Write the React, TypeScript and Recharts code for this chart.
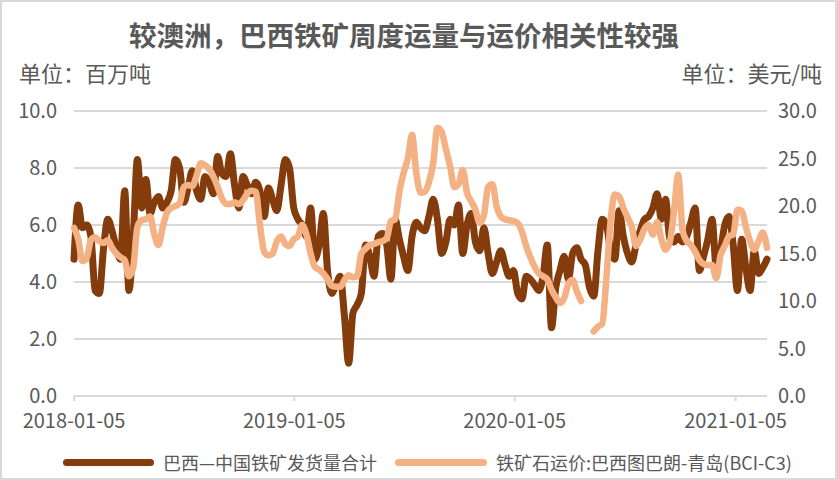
import { LineChart, Line, XAxis, YAxis, CartesianGrid } from "recharts";

// weekly data from 2018-01-05, x measured in days since the first week
const tickDays = [0, 365, 730, 1096];
const tickLabels = ["2018-01-05", "2019-01-05", "2020-01-05", "2021-01-05"];

// 巴西—中国铁矿发货量合计 (百万吨)
const shipments = [
  4.8, 6.7, 5.9, 6.0, 5.6, 3.7, 3.6, 5.2, 6.2, 5.8,
  5.2, 4.8, 7.2, 3.7, 5.5, 8.3, 6.6, 7.6, 6.4, 6.8,
  7.0, 6.6, 6.8, 7.2, 8.3, 8.0, 6.8, 7.3, 7.9, 7.2,
  6.9, 7.7, 7.5, 7.1, 8.4, 7.8, 7.7, 8.5, 7.4, 6.6,
  7.7, 7.4, 7.1, 7.5, 7.2, 6.3, 7.3, 6.9, 6.5, 7.4,
  8.3, 8.0, 6.6, 6.2, 6.0, 5.6, 6.6, 4.8, 5.3, 6.4,
  4.4, 3.6, 3.9, 4.2, 2.8, 1.15, 2.9, 3.2, 3.6, 5.3,
  4.9, 4.2, 5.6, 5.7, 5.3, 4.1, 6.2, 5.5, 4.9, 4.4,
  5.6, 6.1, 5.9, 5.8, 6.3, 6.9, 6.2, 5.0, 5.4, 6.2,
  6.0, 6.7, 5.0, 6.0, 6.4, 5.4, 5.1, 5.9, 5.0, 4.3,
  4.7, 5.1, 4.6, 4.2, 4.4, 3.6, 3.4, 4.2, 4.1, 3.9,
  3.7, 4.2, 5.3, 2.4, 3.8, 4.4, 4.9, 4.1, 5.0, 5.2,
  4.8, 4.6, 3.8, 3.5, 5.1, 6.2, 6.0, 5.1, 4.8, 6.5,
  5.6, 5.0, 4.7, 5.3, 5.8, 6.2, 6.3, 6.6, 7.1, 6.2,
  6.9, 5.5, 5.4, 5.6, 5.4, 5.6, 6.1, 6.6, 4.4, 4.9,
  5.5, 6.2, 4.5, 5.1, 6.0, 6.3, 5.3, 3.7, 5.5, 4.5,
  3.7, 5.1, 4.3, 4.5, 4.8,
];

// 铁矿石运价:巴西图巴朗-青岛(BCI-C3) (美元/吨)
const freight: (number | null)[] = [
  17.7, 16.5, 14.2, 14.5, 16.4, 16.7, 16.3, 16.1, 16.4, 15.6,
  15.0, 14.6, 14.3, 12.6, 13.5, 17.8, 18.5, 18.6, 18.9, 17.0,
  15.9, 17.8, 19.3, 19.8, 20.0, 20.3, 22.0, 22.2, 22.1, 23.2,
  24.5, 24.3, 23.9, 23.1, 22.0, 20.8, 20.2, 20.2, 20.4, 20.2,
  20.6, 21.3, 21.6, 21.5, 18.0, 15.2, 14.8, 15.0, 16.3, 16.8,
  16.0, 15.8, 16.5, 16.8, 18.0, 17.0, 15.0, 13.6, 13.3, 12.9,
  12.3, 11.6, 11.5, 11.5, 12.2, 12.7, 12.5, 12.6, 15.0, 15.5,
  15.9, 16.0, 16.2, 16.3, 16.6, 18.4, 18.6, 21.5, 23.5, 25.0,
  27.5, 23.5, 21.4, 21.5, 22.5, 24.5, 28.2, 27.8, 26.0, 24.2,
  22.0, 22.3, 23.8, 21.4, 20.5, 19.6, 18.2, 19.0, 22.0, 22.3,
  20.0, 18.9, 18.6, 18.5, 18.4, 18.2, 17.3, 15.8, 14.6, 13.6,
  12.9, 12.6, 12.3, 11.2, 10.4, 9.8, 10.3, 11.8, 12.2, 11.0,
  10.0, null, null, 6.8, 7.3, 7.6, 12.5, 18.5, 21.2, 21.0,
  19.8, 18.8, 17.8, 15.8, 16.5, 17.6, 18.0, 17.0, 18.3, 16.5,
  15.4, 16.2, 19.5, 23.3, 17.5, 16.3, 15.9, 15.2, 14.3, 13.9,
  13.8, 13.8, 12.4, 14.8, 15.8, 16.8, 17.0, 19.6, 19.5, 17.8,
  16.3, 15.4, 16.3, 17.2, 15.6,
];

const leftTicks = [0, 2, 4, 6, 8, 10];
const rightTicks = [0, 5, 10, 15, 20, 25, 30];

const data = shipments.map((v, i) => ({ day: i * 7, shipment: v, freight: freight[i] }));

const DARK = "#843C0C";
const LIGHT = "#F4B183";
const TEXT = "#595959";
const GRID = "#D9D9D9";
const FONT = '"Noto Sans CJK SC", "Noto Sans", sans-serif';

export default function App() {
  const tick = { fontSize: 20, fill: TEXT, fontFamily: FONT };
  return (
    <div style={{ position: "fixed", left: 0, top: 0, width: 837, height: 480, background: "#fff", fontFamily: FONT }}>
      <div style={{ position: "absolute", top: 16, left: 129, whiteSpace: "nowrap", fontSize: 27.5, fontWeight: 700, color: TEXT, lineHeight: "36px" }}>
        较澳洲，巴西铁矿周度运量与运价相关性较强
      </div>
      <div style={{ position: "absolute", top: 57, left: 19, fontSize: 22, color: TEXT, lineHeight: "30px" }}>单位：百万吨</div>
      <div style={{ position: "absolute", top: 57, right: 15, fontSize: 22, color: TEXT, lineHeight: "30px" }}>单位：美元/吨</div>

      <LineChart width={837} height={480} data={data} margin={{ top: 111, right: 0, bottom: 44, left: 0 }}
        style={{ position: "absolute", left: 0, top: 0 }}>
        <CartesianGrid horizontal vertical={false} stroke={GRID} strokeWidth={2} yAxisId="left" />
        <XAxis
          dataKey="day"
          type="number"
          domain={[0, 1148]}
          ticks={tickDays}
          tickFormatter={(d: number) => tickLabels[tickDays.indexOf(d)] ?? ""}
          axisLine={{ stroke: GRID, strokeWidth: 2 }}
          tickLine={{ stroke: GRID, strokeWidth: 2 }}
          tickSize={5}
          tickMargin={13}
          height={40}
          tick={tick}
          interval={0}
        />
        <YAxis yAxisId="left" domain={[0, 10]} ticks={leftTicks} width={74}
          tickFormatter={(v: number) => v.toFixed(1)} axisLine={false} tickLine={false}
          tickSize={0} tickMargin={17} tick={tick} />
        <YAxis yAxisId="right" orientation="right" domain={[0, 30]} ticks={rightTicks} width={70}
          tickFormatter={(v: number) => v.toFixed(1)} axisLine={false} tickLine={false}
          tickSize={0} tickMargin={11} tick={tick} />
        <Line yAxisId="left" dataKey="shipment" type="monotone" stroke={DARK} strokeWidth={7}
          dot={false} isAnimationActive={false} strokeLinecap="round" strokeLinejoin="round" />
        <Line yAxisId="right" dataKey="freight" type="monotone" stroke={LIGHT} strokeWidth={6.5}
          dot={false} isAnimationActive={false} strokeLinecap="round" strokeLinejoin="round" />
      </LineChart>

      <div style={{ position: "absolute", top: 449, left: 63, display: "flex", alignItems: "center", fontSize: 18, color: TEXT, lineHeight: "26px", whiteSpace: "nowrap" }}>
        <span style={{ width: 91, height: 7, borderRadius: 3.5, background: DARK, marginRight: 9 }} />
        <span>巴西—中国铁矿发货量合计</span>
        <span style={{ width: 92, height: 7, borderRadius: 3.5, background: LIGHT, marginLeft: 18, marginRight: 9 }} />
        <span>铁矿石运价:巴西图巴朗-青岛(BCI-C3)</span>
      </div>

      <div style={{ position: "absolute", inset: 0, border: `2px solid ${GRID}`, pointerEvents: "none" }} />
    </div>
  );
}
